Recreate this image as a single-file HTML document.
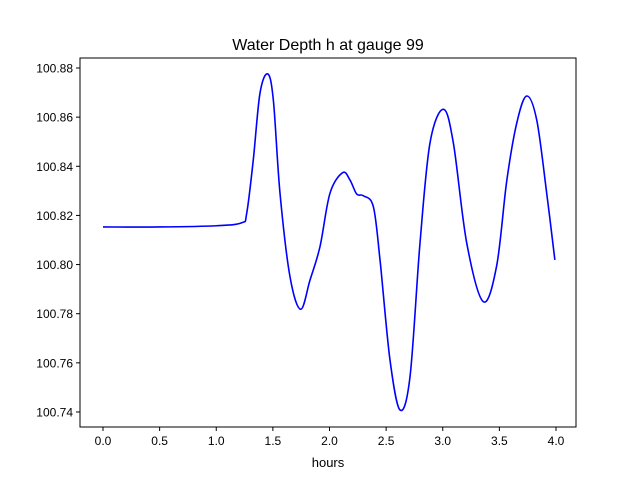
<!DOCTYPE html>
<html><head><meta charset="utf-8"><style>
body{margin:0;background:#fff}
svg{display:block;font-family:"Liberation Sans","DejaVu Sans",sans-serif}
</style></head><body>
<svg id="c" width="640" height="480">
<rect x="0" y="0" width="640" height="480" fill="#fff"/>
<text x="328" y="50" font-size="16" text-anchor="middle">Water Depth h at gauge 99</text>
<g id="plot"></g>
<text x="328" y="467" font-size="13" text-anchor="middle">hours</text>
</svg>
<script>
const hours=[0,0.5,1.0,1.225,1.269,1.327,1.386,1.454,1.504,1.563,1.651,1.745,1.828,1.916,2.004,2.116,2.181,2.240,2.299,2.387,2.446,2.534,2.623,2.711,2.799,2.887,3.005,3.094,3.212,3.358,3.476,3.565,3.653,3.741,3.830,3.918,3.99];
const depth=[100.8153,100.8153,100.8158,100.8170,100.8209,100.8426,100.8697,100.8776,100.8670,100.8290,100.7951,100.7818,100.7937,100.8073,100.8290,100.8374,100.8344,100.8287,100.8280,100.8236,100.8019,100.7612,100.7408,100.7544,100.8087,100.8494,100.8632,100.8494,100.8087,100.7849,100.7995,100.8340,100.8575,100.8686,100.8588,100.8290,100.8019];
const xTicks=[0,0.5,1.0,1.5,2.0,2.5,3.0,3.5,4.0];
const yTicks=[100.74,100.76,100.78,100.80,100.82,100.84,100.86,100.88];
const L=80,R=576,T=58,B=427;
const sx=h=>103+(h-0)*113.25;
const sy=v=>68+(100.88-v)*2457;
const NS="http://www.w3.org/2000/svg";
const g=document.getElementById('plot');
function mk(t,a){const e=document.createElementNS(NS,t);for(const k in a)e.setAttribute(k,a[k]);g.appendChild(e);return e;}
const P=hours.map((h,i)=>[sx(h),sy(depth[i])]);
let d=`M${P[0][0]},${P[0][1]}`;
for(let i=0;i<P.length-1;i++){const p0=P[i-1]||P[i],p1=P[i],p2=P[i+1],p3=P[i+2]||p2;
d+=` C${p1[0]+(p2[0]-p0[0])/6},${p1[1]+(p2[1]-p0[1])/6} ${p2[0]-(p3[0]-p1[0])/6},${p2[1]-(p3[1]-p1[1])/6} ${p2[0]},${p2[1]}`;}
const ln=mk('path',{d:d,fill:'none',stroke:'#0000ff','stroke-width':1.6});


const fr=mk('rect',{x:L,y:T,width:R-L,height:B-T,fill:'none',stroke:'#000','stroke-width':1});


xTicks.forEach(t=>{const x=sx(t);
const tk=mk('line',{x1:x,x2:x,y1:B,y2:B+4,stroke:'#000'});


const tx=mk('text',{x:x,y:B+18,'font-size':12,'text-anchor':'middle'});tx.textContent=t.toFixed(1);

});
yTicks.forEach(t=>{const y=sy(t);
const tk=mk('line',{x1:L-4,x2:L,y1:y,y2:y,stroke:'#000'});


const tx=mk('text',{x:L-7,y:y+4.5,'font-size':12,'text-anchor':'end'});tx.textContent=t.toFixed(2);

});
</script>
</body></html>
